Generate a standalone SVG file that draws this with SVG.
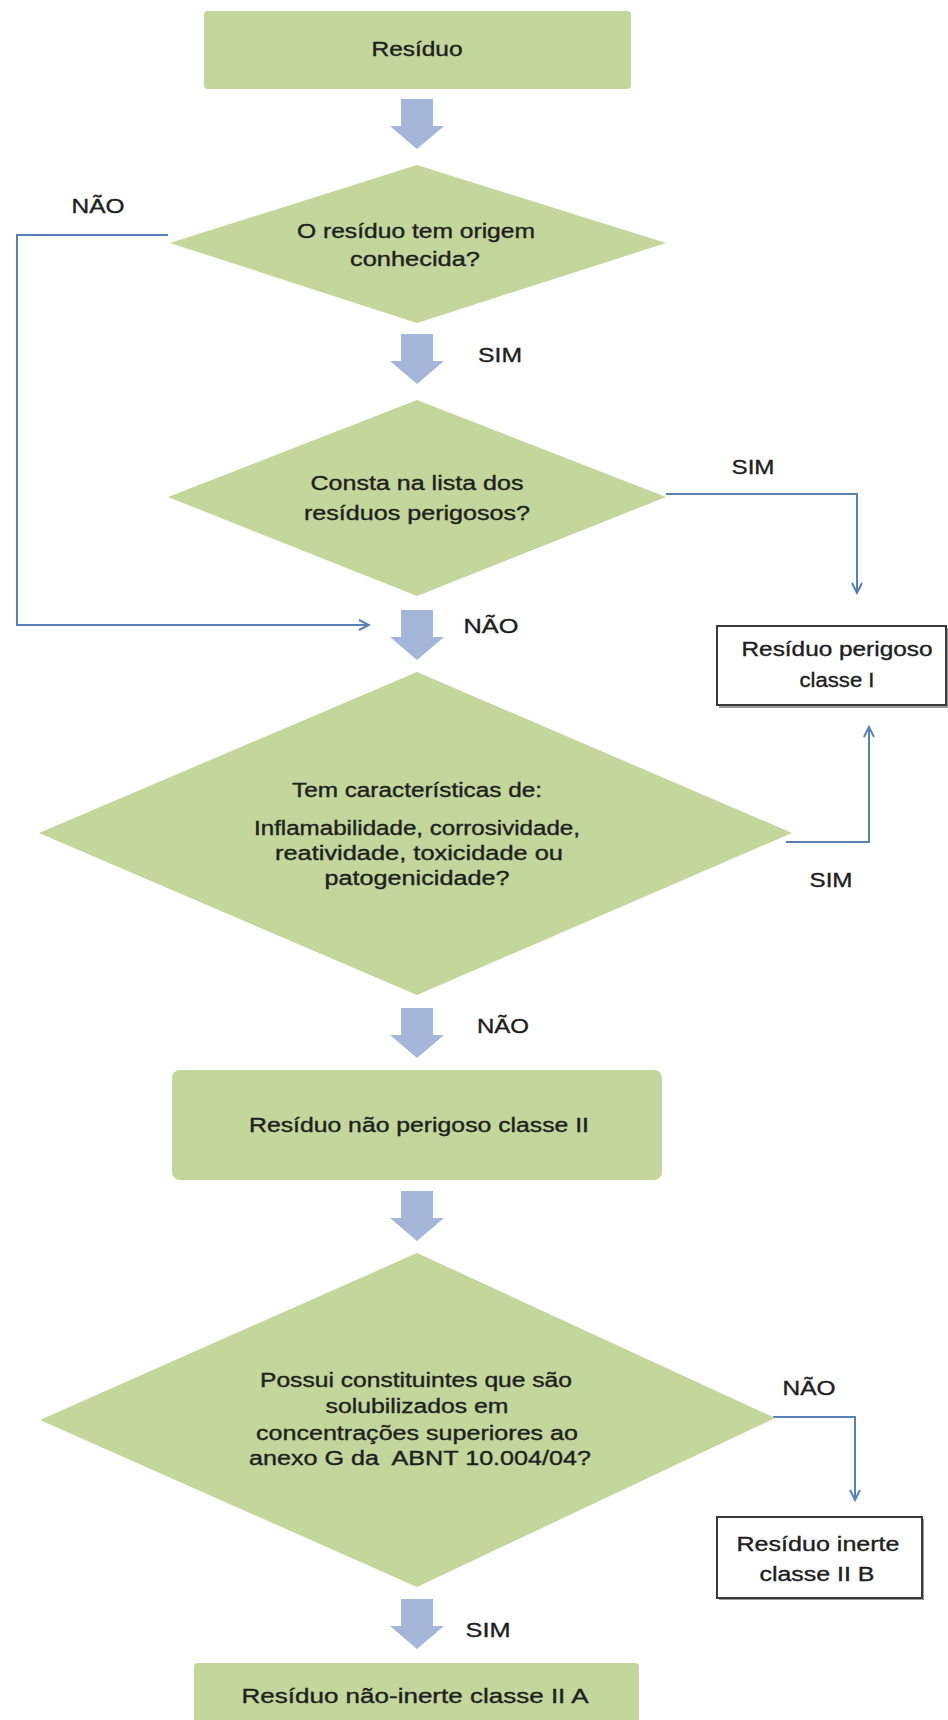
<svg xmlns="http://www.w3.org/2000/svg" xmlns:xlink="http://www.w3.org/1999/xlink" width="948" height="1720" viewBox="0 0 948 1720">
<style>
.bg{fill:#ffffff}
.g{fill:#c3d69b}
.blk{fill:#a4b7d8}
.t{font-family:"Liberation Sans",Arial,sans-serif;font-size:20px;fill:#202020;stroke:#202020;stroke-width:0.35;text-anchor:middle}
.c{fill:none;stroke:#5a80b8;stroke-width:2}
.wb{fill:#ffffff;stroke:#3a3a3a;stroke-width:2}
.sh{fill:#9a9a9a}
</style>
<defs>
<path id="blkarrow" d="M-16,0 H16 V27 H27 L0,50 L-27,27 H-16 Z"/>
<marker id="open" markerUnits="userSpaceOnUse" markerWidth="14" markerHeight="14" viewBox="-12 -7 14 14" refX="0" refY="0" orient="auto">
<path d="M-10,-5 L0,0 L-10,5" fill="none" stroke="#5a80b8" stroke-width="2"/>
</marker>
</defs>
<rect class="bg" x="0" y="0" width="948" height="1720"/>

<g id="connectors">
<use href="#blkarrow" class="blk" x="417" y="99"/>
<use href="#blkarrow" class="blk" x="417" y="334"/>
<use href="#blkarrow" class="blk" x="417" y="610"/>
<use href="#blkarrow" class="blk" x="417" y="1008"/>
<use href="#blkarrow" class="blk" x="417" y="1191"/>
<use href="#blkarrow" class="blk" x="417" y="1599"/>
<path class="c" d="M168,235 H17 V625 H369" marker-end="url(#open)"/>
<path class="c" d="M666,494 H857 V593" marker-end="url(#open)"/>
<path class="c" d="M786,842 H869 V727" marker-end="url(#open)"/>
<path class="c" d="M773,1417 H855 V1500" marker-end="url(#open)"/>
<text class="t" x="98" y="213" textLength="53" lengthAdjust="spacingAndGlyphs">NÃO</text>
<text class="t" x="500" y="362" textLength="44" lengthAdjust="spacingAndGlyphs">SIM</text>
<text class="t" x="753" y="474" textLength="43" lengthAdjust="spacingAndGlyphs">SIM</text>
<text class="t" x="491" y="633" textLength="55" lengthAdjust="spacingAndGlyphs">NÃO</text>
<text class="t" x="831" y="887" textLength="43" lengthAdjust="spacingAndGlyphs">SIM</text>
<text class="t" x="503" y="1033" textLength="52" lengthAdjust="spacingAndGlyphs">NÃO</text>
<text class="t" x="809" y="1395" textLength="53" lengthAdjust="spacingAndGlyphs">NÃO</text>
<text class="t" x="488" y="1637" textLength="45" lengthAdjust="spacingAndGlyphs">SIM</text>
</g>

<g id="residuo">
<rect class="g" x="204" y="11" width="427" height="78" rx="4"/>
<text class="t" x="417" y="56" textLength="91" lengthAdjust="spacingAndGlyphs">Resíduo</text>
</g>

<g id="origem">
<polygon class="g" points="417,165 666,243 417,323 170,243"/>
<text class="t" x="416" y="238" textLength="238" lengthAdjust="spacingAndGlyphs">O resíduo tem origem</text>
<text class="t" x="415" y="266" textLength="130" lengthAdjust="spacingAndGlyphs">conhecida?</text>
</g>

<g id="lista">
<polygon class="g" points="417,400 666,497 417,596 168,497"/>
<text class="t" x="417" y="490" textLength="213" lengthAdjust="spacingAndGlyphs">Consta na lista dos</text>
<text class="t" x="417" y="520" textLength="226" lengthAdjust="spacingAndGlyphs">resíduos perigosos?</text>
</g>

<g id="perigoso">
<rect class="sh" x="719" y="628" width="229" height="80"/>
<rect class="wb" x="717" y="626" width="229" height="79"/>
<text class="t" x="837" y="656" textLength="191" lengthAdjust="spacingAndGlyphs">Resíduo perigoso</text>
<text class="t" x="837" y="687" textLength="75" lengthAdjust="spacingAndGlyphs">classe I</text>
</g>

<g id="caracteristicas">
<polygon class="g" points="417,672 792,833 417,995 39,833"/>
<text class="t" x="417" y="797" textLength="250" lengthAdjust="spacingAndGlyphs">Tem características de:</text>
<text class="t" x="417" y="835" textLength="326" lengthAdjust="spacingAndGlyphs">Inflamabilidade, corrosividade,</text>
<text class="t" x="419" y="860" textLength="288" lengthAdjust="spacingAndGlyphs">reatividade, toxicidade ou</text>
<text class="t" x="417" y="885" textLength="185" lengthAdjust="spacingAndGlyphs">patogenicidade?</text>
</g>

<g id="naoperigoso">
<rect class="g" x="172" y="1070" width="490" height="110" rx="8"/>
<text class="t" x="419" y="1132" textLength="340" lengthAdjust="spacingAndGlyphs">Resíduo não perigoso classe II</text>
</g>

<g id="constituintes">
<polygon class="g" points="417,1253 775,1418 417,1587 40,1420"/>
<text class="t" x="416" y="1387" textLength="312" lengthAdjust="spacingAndGlyphs">Possui constituintes que são</text>
<text class="t" x="417" y="1413" textLength="183" lengthAdjust="spacingAndGlyphs">solubilizados em</text>
<text class="t" x="417" y="1440" textLength="322" lengthAdjust="spacingAndGlyphs">concentrações superiores ao</text>
<text class="t" x="420" y="1465" textLength="342" lengthAdjust="spacingAndGlyphs" xml:space="preserve">anexo G da  ABNT 10.004/04?</text>
</g>

<g id="inerte">
<rect class="sh" x="719" y="1519" width="205" height="81"/>
<rect class="wb" x="717" y="1517" width="205" height="81"/>
<text class="t" x="818" y="1551" textLength="163" lengthAdjust="spacingAndGlyphs">Resíduo inerte</text>
<text class="t" x="817" y="1581" textLength="115" lengthAdjust="spacingAndGlyphs">classe II B</text>
</g>

<g id="naoinerte">
<rect class="g" x="194" y="1663" width="445" height="70" rx="4"/>
<text class="t" x="415" y="1703" style="font-size:21px" textLength="347" lengthAdjust="spacingAndGlyphs">Resíduo não-inerte classe II A</text>
</g>
</svg>
